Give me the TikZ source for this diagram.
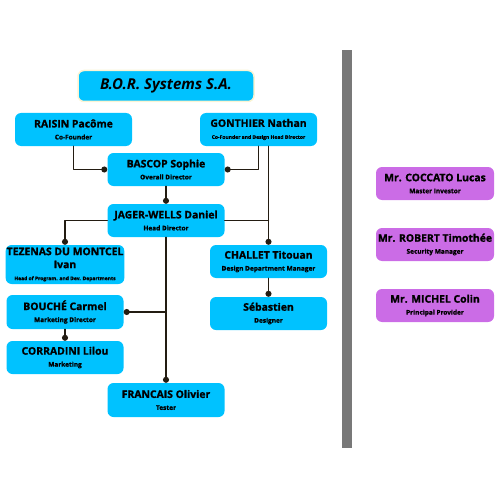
\documentclass[tikz,border=0pt]{standalone}
\usepackage{fontspec}
\setmainfont{Open Sans}[BoldFeatures={FakeBold=1.2}]
\usetikzlibrary{arrows.meta}
\definecolor{boxcyan}{RGB}{0,194,255}
\definecolor{boxviolet}{RGB}{203,108,230}
\definecolor{titleedge}{RGB}{250,244,212}
\definecolor{linec}{RGB}{35,28,18}
\definecolor{barc}{RGB}{120,120,120}
\newcommand{\pname}[1]{{\fontsize{10.4}{12}\selectfont\bfseries #1}}
\newcommand{\prole}[1]{{\fontsize{6.5}{8}\selectfont\bfseries #1}}
\newcommand{\psmall}[1]{{\fontsize{5}{6.5}\selectfont\bfseries #1}}
\tikzset{
	person/.style={rounded corners=6pt, fill=boxcyan, minimum width=117pt, minimum height=33pt, align=center, inner sep=1pt},
	guest/.style={person, fill=boxviolet},
	link/.style={draw=linec, line width=1.1pt},
	dot/.style={link, -{Circle[length=6pt]}}
}
\begin{document}
\begin{tikzpicture}[x=1pt, y=-1pt, line join=round, line cap=round]
	\useasboundingbox (0,0) rectangle (500,500);
	% titre
	\node[person, draw=titleedge, line width=1.5pt, minimum width=176pt, minimum height=31pt] (title) at (166,86) {\fontsize{15}{18}\selectfont\bfseries\itshape B.O.R. Systems S.A.};
	% fondateurs
	\node[person] (raisin) at (73.5,129.5) {\pname{RAISIN Pacôme}\\\prole{Co-Founder}};
	\node[person] (gonthier) at (258.5,129.5) {\pname{GONTHIER Nathan}\\\psmall{Co-Founder and Design Head Director}};
	\node[person] (bascop) at (166,169.5) {\pname{BASCOP Sophie}\\\prole{Overall Director}};
	\node[person] (jager) at (166,220.5) {\pname{JAGER-WELLS Daniel}\\\prole{Head Director}};
	% branche gauche
	\node[person, minimum height=39pt] (tezenas) at (65,264.5) {\pname{TEZENAS DU MONTCEL}\\[1pt]\pname{Ivan}\\\psmall{Head of Program. and Dev. Departments}};
	\node[person, minimum height=34pt] (bouche) at (65,312) {\pname{BOUCHÉ Carmel}\\\prole{Marketing Director}};
	\node[person] (corradini) at (65,357.5) {\pname{CORRADINI Lilou}\\\prole{Marketing}};
	\node[person, minimum height=34pt] (francais) at (166,400) {\pname{FRANCAIS Olivier}\\\prole{Tester}};
	% branche droite
	\node[person] (challet) at (268.5,261.5) {\pname{CHALLET Titouan}\\\prole{Design Department Manager}};
	\node[person] (sebastien) at (268.5,313.5) {\pname{Sébastien}\\\prole{Designer}};
	% liens
	\draw[dot] (raisin.south) |- (bascop.west);
	\draw[dot] (gonthier.south) |- (bascop.east);
	\draw[dot] (gonthier.south -| challet.north) -- (challet.north);
	\draw[link] (jager.east) -- (jager.east -| challet.north);
	\draw[dot] (bascop.south) -- (jager.north);
	\draw[dot] (jager.west) -| (tezenas.north);
	\draw[dot] (jager.south) -- (francais.north);
	\draw[dot] (jager.south |- bouche.east) -- (bouche.east);
	\draw[dot] (bouche.south) -- (corradini.north);
	\draw[dot] (challet.south) -- (sebastien.north);
	% barre et partenaires
	\fill[barc] (342,50) rectangle (352,448);
	\node[guest, minimum width=118pt] (coccato) at (435,183.5) {\pname{Mr. COCCATO Lucas}\\\prole{Master Investor}};
	\node[guest, minimum width=118pt] (robert) at (435,244.5) {\pname{Mr. ROBERT Timothée}\\\prole{Security Manager}};
	\node[guest, minimum width=118pt] (michel) at (435,305.5) {\pname{Mr. MICHEL Colin}\\\prole{Principal Provider}};
\end{tikzpicture}
\end{document}
